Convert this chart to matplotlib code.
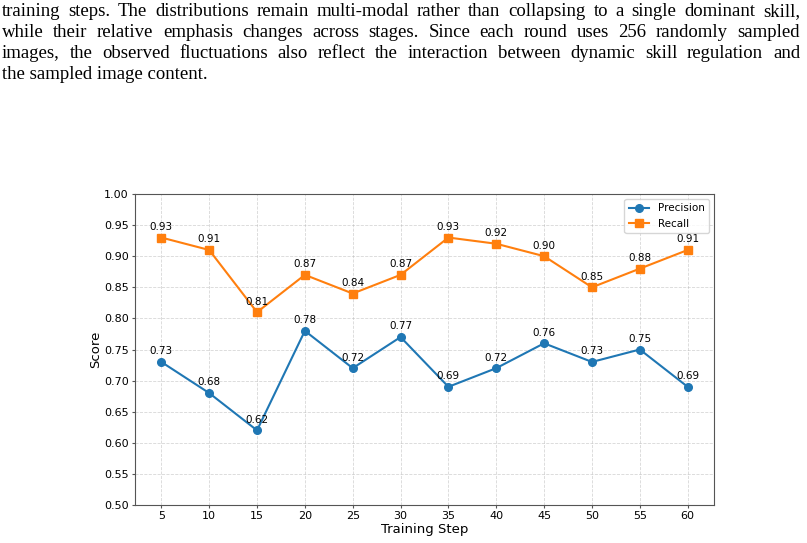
import matplotlib
matplotlib.use('Agg')
import matplotlib.pyplot as plt

steps = [5, 10, 15, 20, 25, 30, 35, 40, 45, 50, 55, 60]
precision = [0.73, 0.68, 0.62, 0.78, 0.72, 0.77, 0.69, 0.72, 0.76, 0.73, 0.75, 0.69]
recall = [0.93, 0.91, 0.81, 0.87, 0.84, 0.87, 0.93, 0.92, 0.90, 0.85, 0.88, 0.91]

para_lines = [
    "training steps. The distributions remain multi-modal rather than collapsing to a single dominant skill,",
    "while their relative emphasis changes across stages. Since each round uses 256 randomly sampled",
    "images, the observed fluctuations also reflect the interaction between dynamic skill regulation and",
    "the sampled image content.",
]

fig = plt.figure(figsize=(8.07, 5.43), dpi=100)
W, H = 807, 543

# paragraph above the chart, justified line by line
renderer = fig.canvas.get_renderer()
para_size = 13.5
left_px, right_px = 2, 800
baselines = [16, 37, 58, 79]
for i, line in enumerate(para_lines):
    y = 1 - baselines[i] / H
    if i == len(para_lines) - 1:
        fig.text(left_px / W, y, line, family='Liberation Serif', fontsize=para_size,
                 va='baseline', ha='left')
        continue
    words = line.split(' ')
    widths = []
    for w in words:
        t = fig.text(0, 0, w, family='Liberation Serif', fontsize=para_size)
        widths.append(t.get_window_extent(renderer).width)
        t.remove()
    gap = (right_px - left_px - sum(widths)) / (len(words) - 1)
    x = left_px
    for w, wd in zip(words, widths):
        fig.text(x / W, y, w, family='Liberation Serif', fontsize=para_size,
                 va='baseline', ha='left')
        x += wd + gap

ax = fig.add_axes([135 / W, 38 / H, (714 - 135) / W, (505 - 194) / H])
ax.plot(steps, precision, marker='o', markersize=5.5, color='#1f77b4', label='Precision')
ax.plot(steps, recall, marker='s', markersize=5.5, color='#ff7f0e', label='Recall')

for s, p, r in zip(steps, precision, recall):
    ax.annotate(f'{p:.2f}', (s, p), textcoords='offset points', xytext=(0, 5.5),
                ha='center', fontsize=7.5)
    ax.annotate(f'{r:.2f}', (s, r), textcoords='offset points', xytext=(0, 5.5),
                ha='center', fontsize=7.5)

ax.set_ylim(0.5, 1.0)
ax.set_xticks(steps)
ax.set_yticks([0.5 + 0.05 * k for k in range(11)])
ax.tick_params(labelsize=8, length=2.5, pad=2, color='#555555')
ax.set_xlabel('Training Step', fontsize=9.5, labelpad=1)
ax.set_ylabel('Score', fontsize=9.5, labelpad=1)
ax.grid(True, linestyle='--', alpha=0.5, linewidth=0.6)
for sp in ax.spines.values():
    sp.set_color('#555555')
ax.legend(loc='upper right', fontsize=7.5)

fig.savefig('out.png', dpi=100)
